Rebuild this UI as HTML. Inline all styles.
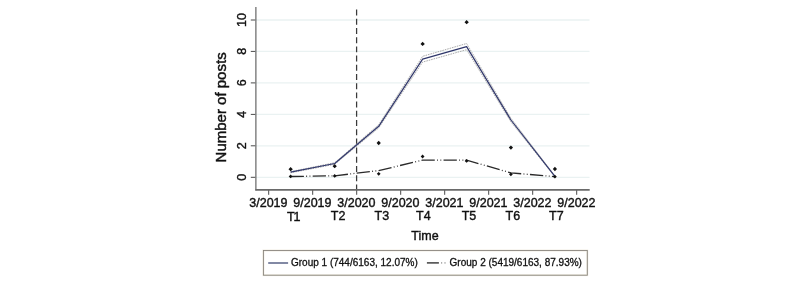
<!DOCTYPE html>
<html><head><meta charset="utf-8"><title>Number of posts over time</title>
<style>
html,body{margin:0;padding:0;background:#fff;}
svg{display:block;}
text{font-family:"Liberation Sans",Arial,Helvetica,sans-serif;fill:#111;stroke:#111;stroke-width:0.3px;}
.tk{font-size:12.5px;stroke-width:0.38px;}
.lg{font-size:10px;}
.yt{font-size:15px;stroke-width:0.45px;}
</style></head><body>
<svg width="800" height="281" viewBox="0 0 800 281">
<rect width="800" height="281" fill="#fff"/>

<g stroke="#eaf2f2" stroke-width="1.3">
<line x1="256" x2="589.5" y1="177.3" y2="177.3"/>
<line x1="256" x2="589.5" y1="145.8" y2="145.8"/>
<line x1="256" x2="589.5" y1="114.4" y2="114.4"/>
<line x1="256" x2="589.5" y1="82.9" y2="82.9"/>
<line x1="256" x2="589.5" y1="51.4" y2="51.4"/>
<line x1="256" x2="589.5" y1="20.0" y2="20.0"/>
</g>
<line x1="356.6" x2="356.6" y1="9.6" y2="189.6" stroke="#3a3a3a" stroke-width="1.25" stroke-dasharray="5.95 3.25"/>
<g fill="none" stroke="#9c9c9c" stroke-width="0.85" stroke-dasharray="1.6 0.9"><polyline points="290.6,171.6 334.7,162.7 378.7,124.7 422.6,56.3 466.6,43.5 510.9,118.2 554.9,175.8"/><polyline points="290.6,172.8 334.7,164.3 378.7,127.9 422.6,62.1 466.6,49.7 510.9,121.8 554.9,176.8"/></g>
<polyline points="290.6,176.5 334.7,175.8 378.7,170.6 422.6,160.1 466.6,160.1 510.9,172.9 554.9,176.6" fill="none" stroke="#2a2a2a" stroke-width="1.3" stroke-dasharray="13.3 2.3 0.9 2.4 0.9 2.27"/>
<polyline points="290.6,172.2 334.7,163.5 378.7,126.3 422.6,59.2 466.6,46.6 510.9,120.0 554.9,176.3" fill="none" stroke="#2f366a" stroke-width="1.2" stroke-linejoin="round"/>
<g fill="#111">
<path d="M288.5 169.2L290.6 167.0L292.8 169.2L290.6 171.3Z"/>
<path d="M288.7 176.4L290.6 174.5L292.5 176.4L290.6 178.3Z"/>
<path d="M332.6 166.2L334.7 164.0L336.8 166.2L334.7 168.3Z"/>
<path d="M332.8 175.9L334.7 174.0L336.6 175.9L334.7 177.8Z"/>
<path d="M376.6 143.0L378.7 140.8L380.8 143.0L378.7 145.2Z"/>
<path d="M376.8 173.8L378.7 171.9L380.6 173.8L378.7 175.7Z"/>
<path d="M420.5 43.9L422.6 41.8L424.8 43.9L422.6 46.0Z"/>
<path d="M420.7 156.5L422.6 154.6L424.5 156.5L422.6 158.4Z"/>
<path d="M464.5 22.2L466.6 20.1L468.8 22.2L466.6 24.3Z"/>
<path d="M464.7 160.9L466.6 159.0L468.5 160.9L466.6 162.8Z"/>
<path d="M508.8 147.6L510.9 145.4L513.0 147.6L510.9 149.8Z"/>
<path d="M509.0 174.3L510.9 172.4L512.8 174.3L510.9 176.2Z"/>
<path d="M552.8 169.0L554.9 166.8L557.0 169.0L554.9 171.2Z"/>
<path d="M553.0 176.7L554.9 174.8L556.8 176.7L554.9 178.6Z"/>
</g>
<g stroke="#333" stroke-width="1.1" fill="none">
<line x1="255.9" x2="255.9" y1="7" y2="190.5" stroke-width="1.05" stroke="#4f4f4f"/>
<line x1="255.4" x2="589.7" y1="189.8" y2="189.8" stroke-width="1.7" stroke="#6a6a6a"/>
<line x1="250.8" x2="255.3" y1="177.3" y2="177.3" stroke="#4a4a4a" stroke-width="1"/>
<line x1="250.8" x2="255.3" y1="145.8" y2="145.8" stroke="#4a4a4a" stroke-width="1"/>
<line x1="250.8" x2="255.3" y1="114.4" y2="114.4" stroke="#4a4a4a" stroke-width="1"/>
<line x1="250.8" x2="255.3" y1="82.9" y2="82.9" stroke="#4a4a4a" stroke-width="1"/>
<line x1="250.8" x2="255.3" y1="51.4" y2="51.4" stroke="#4a4a4a" stroke-width="1"/>
<line x1="250.8" x2="255.3" y1="20.0" y2="20.0" stroke="#4a4a4a" stroke-width="1"/>
<line x1="268.7" x2="268.7" y1="190.3" y2="194.8" stroke="#4a4a4a" stroke-width="1"/>
<line x1="312.7" x2="312.7" y1="190.3" y2="194.8" stroke="#4a4a4a" stroke-width="1"/>
<line x1="356.7" x2="356.7" y1="190.3" y2="194.8" stroke="#4a4a4a" stroke-width="1"/>
<line x1="400.7" x2="400.7" y1="190.3" y2="194.8" stroke="#4a4a4a" stroke-width="1"/>
<line x1="444.7" x2="444.7" y1="190.3" y2="194.8" stroke="#4a4a4a" stroke-width="1"/>
<line x1="488.7" x2="488.7" y1="190.3" y2="194.8" stroke="#4a4a4a" stroke-width="1"/>
<line x1="532.7" x2="532.7" y1="190.3" y2="194.8" stroke="#4a4a4a" stroke-width="1"/>
<line x1="576.7" x2="576.7" y1="190.3" y2="194.8" stroke="#4a4a4a" stroke-width="1"/>
</g>
<text class="tk" text-anchor="middle" transform="translate(245.5 177.3) rotate(-90)">0</text>
<text class="tk" text-anchor="middle" transform="translate(245.5 145.8) rotate(-90)">2</text>
<text class="tk" text-anchor="middle" transform="translate(245.5 114.4) rotate(-90)">4</text>
<text class="tk" text-anchor="middle" transform="translate(245.5 82.9) rotate(-90)">6</text>
<text class="tk" text-anchor="middle" transform="translate(245.5 51.4) rotate(-90)">8</text>
<text class="tk" text-anchor="middle" transform="translate(245.5 20.0) rotate(-90)">10</text>
<text class="yt" text-anchor="middle" transform="translate(226.3 107.4) rotate(-90)">Number of posts</text>
<text class="tk" text-anchor="middle" x="268.4" y="207.4">3/2019</text>
<text class="tk" text-anchor="middle" x="312.4" y="207.4">9/2019</text>
<text class="tk" text-anchor="middle" x="356.4" y="207.4">3/2020</text>
<text class="tk" text-anchor="middle" x="400.4" y="207.4">9/2020</text>
<text class="tk" text-anchor="middle" x="444.4" y="207.4">3/2021</text>
<text class="tk" text-anchor="middle" x="488.4" y="207.4">9/2021</text>
<text class="tk" text-anchor="middle" x="532.4" y="207.4">3/2022</text>
<text class="tk" text-anchor="middle" x="576.4" y="207.4">9/2022</text>
<text class="tk" text-anchor="middle" x="293.1" y="221.3" letter-spacing="-1.2">T1</text>
<text class="tk" text-anchor="middle" x="338.1" y="220.3">T2</text>
<text class="tk" text-anchor="middle" x="381.8" y="220.3">T3</text>
<text class="tk" text-anchor="middle" x="423.4" y="220.3">T4</text>
<text class="tk" text-anchor="middle" x="469.0" y="220.3">T5</text>
<text class="tk" text-anchor="middle" x="512.8" y="220.3">T6</text>
<text class="tk" text-anchor="middle" x="556.4" y="220.3">T7</text>
<text class="tk" text-anchor="middle" x="425" y="240.4">Time</text>
<rect x="263.4" y="250.5" width="323.9" height="24.7" fill="#fff" stroke="#efebe0" stroke-width="1.9"/><rect x="263.4" y="250.5" width="323.9" height="24.7" fill="none" stroke="#85817a" stroke-width="0.85"/>
<line x1="268.2" x2="288.1" y1="263" y2="263" stroke="#7c83a0" stroke-width="1.9"/>
<text class="lg" x="291" y="266.15">Group 1 (744/6163, 12.07%)</text>
<line x1="426.9" x2="446.9" y1="262.9" y2="262.9" stroke="#5c5c5c" stroke-width="1.8" stroke-dasharray="12 2.6 0.6 2.6 0.6 3"/>
<text class="lg" x="449.6" y="266.15">Group 2 (5419/6163, 87.93%)</text>
</svg></body></html>
